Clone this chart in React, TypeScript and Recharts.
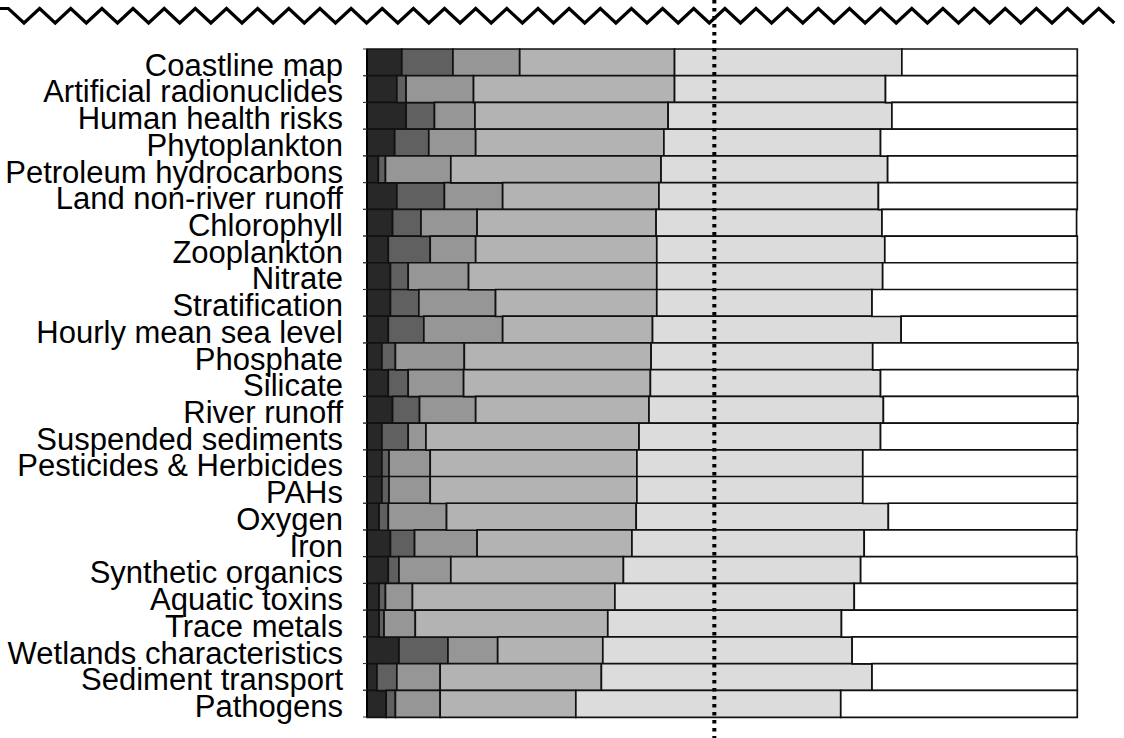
import React from 'react';
import { BarChart, Bar, XAxis, YAxis, ReferenceLine } from 'recharts';

const categories = [
  'Coastline map', 'Artificial radionuclides', 'Human health risks', 'Phytoplankton',
  'Petroleum hydrocarbons', 'Land non-river runoff', 'Chlorophyll', 'Zooplankton',
  'Nitrate', 'Stratification', 'Hourly mean sea level', 'Phosphate', 'Silicate',
  'River runoff', 'Suspended sediments', 'Pesticides & Herbicides', 'PAHs', 'Oxygen',
  'Iron', 'Synthetic organics', 'Aquatic toxins', 'Trace metals',
  'Wetlands characteristics', 'Sediment transport', 'Pathogens',
];

const seg1 = [4.9, 4.2, 5.5, 3.9, 1.6, 4.2, 3.6, 3.0, 3.3, 3.3, 3.0, 2.1, 3.0, 3.6, 2.1, 2.1, 2.1, 1.7, 3.3, 3.0, 1.7, 1.7, 4.5, 1.4, 2.7];
const seg2 = [7.2, 1.3, 4.0, 4.8, 1.0, 6.7, 4.0, 5.9, 2.5, 4.0, 5.0, 1.9, 2.8, 3.8, 3.7, 1.0, 1.0, 1.3, 3.4, 1.5, 0.9, 0.7, 6.9, 2.8, 1.3];
const seg3 = [9.4, 9.5, 5.7, 6.6, 9.2, 8.2, 7.9, 6.4, 8.5, 10.8, 11.1, 9.7, 7.8, 7.9, 2.5, 5.8, 5.8, 8.2, 8.8, 7.3, 3.8, 4.4, 7.0, 6.1, 6.3];
const seg4 = [21.8, 28.3, 27.2, 26.5, 29.6, 22.0, 25.2, 25.5, 26.5, 22.7, 21.1, 26.3, 26.3, 24.4, 30.0, 29.1, 29.1, 26.7, 21.8, 24.3, 28.5, 27.1, 14.8, 22.7, 19.1];
const seg5 = [32.0, 29.7, 31.5, 30.5, 31.9, 30.9, 31.8, 32.1, 31.8, 30.3, 35.0, 31.2, 32.4, 33.0, 34.0, 31.8, 31.8, 35.5, 32.7, 33.4, 33.7, 32.9, 35.1, 38.1, 37.3];
const seg6 = [24.7, 27.0, 26.1, 27.7, 26.7, 28.0, 27.4, 27.1, 27.4, 28.9, 24.8, 28.9, 27.7, 27.4, 27.7, 30.2, 30.2, 26.6, 29.9, 30.5, 31.4, 33.2, 31.7, 28.9, 33.3];

const referenceValue = 48.9;

const segKeys = ['s1', 's2', 's3', 's4', 's5', 's6'];
const segColors = ['#282828', '#606060', '#969696', '#b3b3b3', '#dcdcdc', '#ffffff'];

const data = categories.map((name, i) => ({
  name,
  s1: seg1[i],
  s2: seg2[i],
  s3: seg3[i],
  s4: seg4[i],
  s5: seg5[i],
  s6: seg6[i],
}));

const W = 1124;
const H = 738;
const MARGIN = { top: 49, right: 46, bottom: 21, left: 0 };
const AXIS_W = 367;
const BAND = (H - MARGIN.top - MARGIN.bottom) / categories.length;

function Tick(props: any) {
  const { y, payload } = props;
  const ax = MARGIN.left + AXIS_W;
  return (
    <g>
      <line x1={ax - 4} x2={ax} y1={y - BAND / 2} y2={y - BAND / 2} stroke="#333" strokeWidth={1} />
      <line x1={ax - 4} x2={ax} y1={y + BAND / 2} y2={y + BAND / 2} stroke="#333" strokeWidth={1} />
      <text
        x={ax - 24}
        y={y + 13.3}
        textAnchor="end"
        fill="#000"
        fontSize={31}
        fontFamily="'Liberation Sans', Arial, sans-serif"
      >
        {payload.value}
      </text>
    </g>
  );
}

function DottedShape(props: any) {
  const { x1, x2 } = props;
  return (
    <line x1={x1} x2={x2} y1={0} y2={H} stroke="#000" strokeWidth={4} strokeDasharray="3.5 4.5" />
  );
}

function Zigzag() {
  const pts: string[] = [];
  const period = 31.15;
  const first = 24;
  const top = 8.5;
  const bot = 23;
  const startY = bot - ((bot - top) * first) / (period / 2);
  pts.push(`0,${Math.max(top, startY).toFixed(1)}`);
  let x = first - period / 2;
  let k = 0;
  while (x < 1116) {
    const isTrough = k % 2 === 1;
    if (x > 0) pts.push(`${x.toFixed(1)},${isTrough ? bot : top}`);
    x += period / 2;
    k++;
  }
  return (
    <svg width={W} height={H} style={{ position: 'absolute', left: 0, top: 0, pointerEvents: 'none' }}>
      <polyline points={pts.join(' ')} fill="none" stroke="#000" strokeWidth={3.2} strokeLinejoin="miter" />
    </svg>
  );
}

export default function App() {
  return (
    <div style={{ position: 'absolute', left: 0, top: 0, width: W, height: H, background: '#fff' }}>
      <BarChart
        width={W}
        height={H}
        data={data}
        layout="vertical"
        margin={MARGIN}
        barCategoryGap={0}
        barGap={0}
      >
        <XAxis type="number" domain={[0, 100]} hide />
        <YAxis
          type="category"
          dataKey="name"
          width={AXIS_W}
          interval={0}
          tickLine={false}
          axisLine={{ stroke: '#000', strokeWidth: 2 }}
          tick={<Tick />}
        />
        {segKeys.map((k, i) => (
          <Bar
            key={k}
            dataKey={k}
            stackId="a"
            fill={segColors[i]}
            stroke="#111"
            strokeWidth={1.7}
            isAnimationActive={false}
          />
        ))}
        <ReferenceLine x={referenceValue} shape={<DottedShape />} ifOverflow="visible" />
      </BarChart>
      <Zigzag />
    </div>
  );
}
